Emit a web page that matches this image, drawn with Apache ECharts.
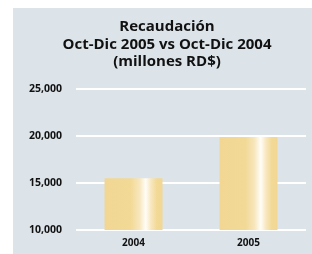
<!DOCTYPE html>
<html>
<head>
<meta charset="utf-8">
<script src="https://cdn.jsdelivr.net/npm/echarts@6/dist/echarts.min.js"></script>
<style>
  html, body { margin: 0; padding: 0; background: #fff; }
  #chart { width: 312px; height: 254px; }
</style>
</head>
<body>
<div id="chart"></div>
<script>
// Recaudación Oct-Dic, millones RD$
const years = ['2004', '2005'];
const recaudacion = [15500, 19900];
const yTicks = [10000, 15000, 20000, 25000];

const chart = echarts.init(document.getElementById('chart'));

// tan bar with a vertical white shine towards the right side
const barColor = new echarts.graphic.LinearGradient(0, 0, 1, 0, [
  { offset: 0, color: '#f1d793' },
  { offset: 0.45, color: '#f2d996' },
  { offset: 0.6, color: '#f7e6bb' },
  { offset: 0.71, color: '#fffdf7' },
  { offset: 0.8, color: '#f8e8c0' },
  { offset: 0.9, color: '#f2d995' },
  { offset: 1, color: '#f1d793' }
]);

chart.setOption({
  backgroundColor: '#fff',
  animation: false,
  graphic: [{
    type: 'rect',
    z: -10,
    silent: true,
    shape: { x: 13, y: 8, width: 299, height: 246 },
    style: { fill: '#dce4e9' }
  }],
  title: {
    text: 'Recaudación\nOct-Dic 2005 vs Oct-Dic 2004\n(millones RD$)',
    left: 162,
    textAlign: 'center',
    top: 13,
    textStyle: {
      fontFamily: 'Open Sans',
      fontWeight: 'bold',
      fontSize: 15,
      lineHeight: 17.5,
      color: '#111'
    }
  },
  grid: { left: 76, right: 6, top: 89, bottom: 24 },
  xAxis: {
    type: 'category',
    data: years,
    axisLine: { show: false },
    axisTick: { show: false },
    axisLabel: {
      margin: 8,
      fontFamily: 'Open Sans',
      fontWeight: 'bold',
      fontSize: 10,
      color: '#111'
    }
  },
  yAxis: {
    type: 'value',
    min: yTicks[0],
    max: yTicks[yTicks.length - 1],
    interval: 5000,
    axisLine: { show: false },
    axisTick: { show: false },
    axisLabel: {
      margin: 14,
      fontFamily: 'Open Sans',
      fontWeight: 'bold',
      fontSize: 10.5,
      color: '#111',
      formatter: v => v.toLocaleString('en-US')
    },
    splitLine: { lineStyle: { color: '#ffffff', width: 2 } }
  },
  series: [{
    type: 'bar',
    data: recaudacion,
    barWidth: 58,
    itemStyle: { color: barColor }
  }]
});
</script>
</body>
</html>
